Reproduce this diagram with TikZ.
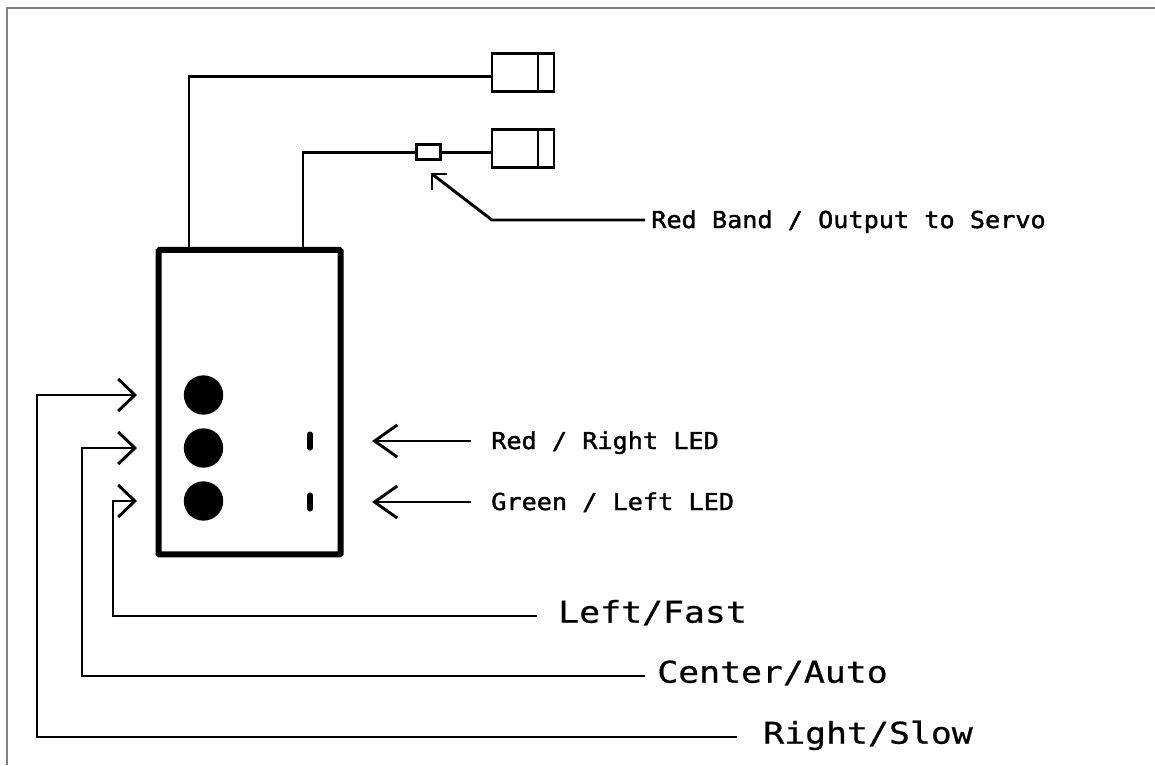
\documentclass[tikz,border=0pt]{standalone}
\usepackage{fontspec}
\setmonofont{DejaVu Sans Mono}
\newfontfamily\smallfont[FakeStretch=1.08,FakeBold=1.6]{DejaVu Sans Mono}
\newfontfamily\largefont[FakeStretch=1.16,FakeBold=0.6]{DejaVu Sans Mono}
\usetikzlibrary{arrows.meta}
\tikzset{
  x=0.75pt,y=-0.75pt,
  wire/.style={line width=2.2pt,line join=miter,draw=black},
  barb/.style={wire,-{Straight Barb[length=12.5pt,width=24pt,line width=2.2pt]}},
  longbarb/.style={wire,-{Straight Barb[length=17pt,width=24pt,line width=2.2pt]}},
  connbox/.style={draw=black,line width=2.2pt,fill=white,minimum width=46.5pt,minimum height=29pt,inner sep=0pt,outer sep=0pt},
  fuse/.style={draw=black,line width=1.8pt,fill=white,minimum width=18pt,minimum height=11.5pt,inner sep=0pt,outer sep=0pt},
  housing/.style={draw=black,line width=4.5pt,rounded corners=0.8pt,minimum width=136.5pt,minimum height=228.4pt,inner sep=0pt,outer sep=0pt},
  button/.style={circle,fill=black,minimum size=29.5pt,inner sep=0pt,outer sep=0pt},
  led/.style={draw=black,line width=3.8pt,line cap=round},
  smalllabel/.style={anchor=west,font=\smallfont\fontsize{17.5pt}{20pt}\selectfont,text height=12pt,text depth=0pt,inner ysep=0pt},
  largelabel/.style={anchor=west,font=\largefont\fontsize{22.5pt}{26pt}\selectfont,text height=12pt,text depth=2pt,inner ysep=0pt},
}
\begin{document}
\begin{tikzpicture}
\useasboundingbox (0,0) rectangle (1155,765);
\draw[gray,line width=1.5pt] (6.5,765) -- (6.5,8) -- (1155,8);

\node[housing] (body) at (249.5,402.2) {};
\node[connbox] (c1) at (523,72.5) {};
\node[connbox] (c2) at (523,148.5) {};
\draw[wire] (538,53) -- (538,92);
\draw[wire] (538,129) -- (538,168);
\coordinate (w1) at (189,249);
\coordinate (w2) at (303,249);
\draw[wire] (w1) |- ([yshift=-3pt]c1.west);
\draw[wire] (w2) |- ([yshift=-3pt]c2.west);
\node[fuse] (band) at (428.5,152) {};

\node[button] (b1) at (203.5,395) {};
\node[button] (b2) at (203.5,448) {};
\node[button] (b3) at (203.5,501) {};
\draw[led] (310,434) -- (310,448);
\draw[led] (310,495) -- (310,509);

\coordinate (t1) at (137,395);
\coordinate (t2) at (137,448);
\coordinate (t3) at (137,501);
\node[largelabel,inner xsep=19.5pt] (rs) at (737,737) {Right/Slow};
\node[largelabel,inner xsep=9pt] (ca) at (645,676) {Center/Auto};
\node[largelabel,inner xsep=15.75pt] (lf) at (537,616) {Left/Fast};
\draw[barb] (rs.west) -| (37,395) -- (t1);
\draw[barb] (ca.west) -| (82,448) -- (t2);
\draw[barb] (lf.west) -| (113,501) -- (t3);

\node[smalllabel,inner xsep=15pt] (rl) at (471,441) {Red / Right LED};
\node[smalllabel,inner xsep=15pt] (gl) at (471,502) {Green / Left LED};
\coordinate (tr) at (372,441);
\coordinate (tg) at (372,502);
\draw[longbarb] (rl.west) -- (tr);
\draw[longbarb] (gl.west) -- (tg);

\node[smalllabel,inner xsep=4.5pt] (rb) at (645,220) {Red Band / Output to Servo};
\coordinate (tb) at (432,174);
\draw[wire] (rb.west) -- (492,220) -- (tb);
\draw[wire] (447,174) -- (tb) -- (432,190);
\end{tikzpicture}
\end{document}
